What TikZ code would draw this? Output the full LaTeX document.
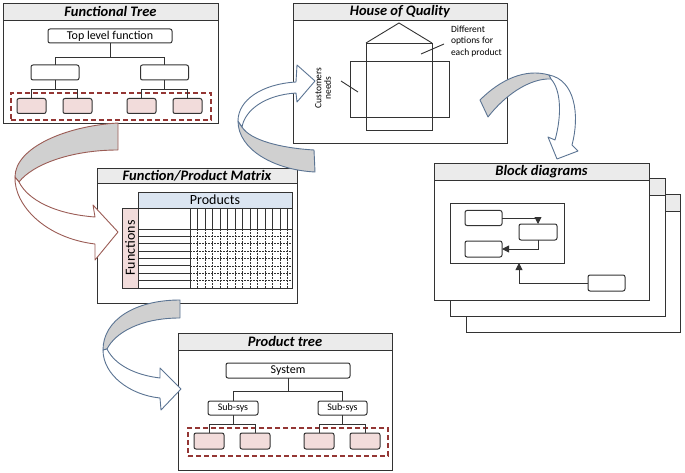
\documentclass[tikz,border=0pt]{standalone}
\usepackage{fontspec}
\setmainfont{Carlito}
\usetikzlibrary{arrows.meta}
\definecolor{barfill}{HTML}{EBEBEB}
\definecolor{leaffill}{HTML}{F2DCDB}
\definecolor{groupred}{HTML}{943634}
\definecolor{prodblue}{HTML}{DBE5F1}
\definecolor{ribbongray}{HTML}{D0D0D0}
\definecolor{brownedge}{HTML}{9B5C55}
\definecolor{blueedge}{HTML}{5B7493}
\definecolor{linegray}{HTML}{333333}
\begin{document}
\begin{tikzpicture}[x=1pt,y=-1pt,inner sep=0pt,outer sep=0pt,
panel/.style={draw=linegray,fill=white,rectangle,line width=0.9pt},
titlebar/.style={draw=linegray,fill=barfill,rectangle,line width=0.9pt,minimum height=17pt,font=\fontsize{14.5}{14.5}\selectfont\bfseries\itshape},
treebox/.style={draw=linegray,fill=white,rectangle,rounded corners=2pt,line width=1pt,font=\fontsize{12}{12}\selectfont},
leaf/.style={treebox,fill=leaffill,minimum width=29pt,minimum height=15pt},
group/.style={draw=groupred,rectangle,line width=1.6pt,dash pattern=on 5pt off 3pt},
link/.style={draw=linegray,line width=0.9pt},
ribbon/.style={line width=0.9pt,line join=round}]
\useasboundingbox (0,0) rectangle (685,473);
% functional tree
\draw (110.5,63) node[panel,minimum width=215pt,minimum height=120pt] (ftpanel) {};
\draw (ftpanel.north) node[titlebar,below,minimum width=215pt] (fttitle) {Functional Tree};
\draw (110,36) node[treebox,minimum width=124pt,minimum height=14pt] (fttop) {Top level function};
\draw (55,72.5) node[treebox,minimum width=48pt,minimum height=15pt] (ftmidL) {};
\draw (164.5,72.5) node[treebox,minimum width=48pt,minimum height=15pt] (ftmidR) {};
\draw (31.5,106) node[leaf] (ftleaf1) {};
\draw (77.5,106) node[leaf] (ftleaf2) {};
\draw (141.5,106) node[leaf] (ftleaf3) {};
\draw (187.5,106) node[leaf] (ftleaf4) {};
\draw (111,106.5) node[group,minimum width=200pt,minimum height=27pt] (ftgroup) {};
\draw[link] (fttop.south) -- ++(0,14) coordinate (ftj) -| (ftmidL.north);
\draw[link] (ftj) -| (ftmidR.north);
\draw[link] (ftmidL.south) -- ++(0,9) coordinate (ftjL) -| (ftleaf1.north);
\draw[link] (ftjL) -| (ftleaf2.north);
\draw[link] (ftmidR.south) -- ++(0,9) coordinate (ftjR) -| (ftleaf3.north);
\draw[link] (ftjR) -| (ftleaf4.north);
% function/product matrix
\draw (197,235.5) node[panel,minimum width=200pt,minimum height=135pt] (fmpanel) {};
\draw (fmpanel.north) node[titlebar,below,minimum width=200pt,minimum height=15pt] (fmtitle) {Function/Product Matrix};
\draw (215,200) node[draw=linegray,fill=prodblue,line width=0.9pt,minimum width=154pt,minimum height=16pt,font=\fontsize{14}{14}\selectfont] (fmprod) {Products};
\draw (130,248) node[draw=linegray,fill=leaffill,line width=0.9pt,rotate=90,minimum width=80pt,minimum height=16pt,font=\fontsize{14}{14}\selectfont] (fmfunc) {Functions};
\draw[link] (138,208) rectangle (292,288);
\draw[link] (190,208) -- (190,288);
\draw[link] (138,229) -- (292,229);
\foreach \k in {1,...,7} {
  \draw[link] (138,{229+7.375*\k}) -- (190,{229+7.375*\k});
  \draw[link,line width=0.7pt,dash pattern=on 2pt off 1pt] (190,{229+7.375*\k}) -- (292,{229+7.375*\k});
}
\foreach \k in {1,...,13} {
  \draw[link] ({190+7.5*\k},208) -- ({190+7.5*\k},229);
  \draw[link,line width=0.7pt,dash pattern=on 2pt off 1pt] ({190+7.5*\k},229) -- ({190+7.5*\k},288);
}
% house of quality
\draw (400,73) node[panel,minimum width=214pt,minimum height=140pt] (hqpanel) {};
\draw (hqpanel.north) node[titlebar,below,minimum width=214pt] (hqtitle) {House of Quality};
\draw (399,86.5) node[draw=linegray,line width=0.9pt,minimum width=66pt,minimum height=87pt] (hqtall) {};
\draw (399.5,89) node[draw=linegray,line width=0.9pt,minimum width=99pt,minimum height=56pt] (hqwide) {};
\draw[link] (hqtall.north west) -- ++(33,-20) -- (hqtall.north east);
\draw (451,41) node[anchor=west,align=left,font=\fontsize{9.5}{11.5}\selectfont] (hqopts) {Different\\options for\\each product};
\draw[link] (hqopts.west) ++(-7,3) -- (421,54);
\draw (323,88) node[rotate=90,align=center,font=\fontsize{9.5}{9.5}\selectfont] (hqneeds) {Customers\\needs};
\draw[link] (hqneeds) ++(18,-7) -- ++(17,11);
% block diagrams
\draw (573,263) node[panel,minimum width=214pt,minimum height=138pt] (bd3) {};
\draw (bd3.north) node[titlebar,below,minimum width=214pt] (bd3title) {};
\draw (557.5,247) node[panel,minimum width=215pt,minimum height=138pt] (bd2) {};
\draw (bd2.north) node[titlebar,below,minimum width=215pt] (bd2title) {};
\draw (541.5,231.5) node[panel,minimum width=215pt,minimum height=137pt] (bdpanel) {};
\draw (bdpanel.north) node[titlebar,below,minimum width=215pt] (bdtitle) {Block diagrams};
\draw (507,233) node[draw=linegray,line width=0.9pt,minimum width=114pt,minimum height=60pt] (bdframe) {};
\draw (483.5,218) node[treebox,minimum width=37pt,minimum height=15pt] (bdb1) {};
\draw (538,232) node[treebox,minimum width=38pt,minimum height=16pt] (bdb2) {};
\draw (483.5,249) node[treebox,minimum width=37pt,minimum height=16pt] (bdb3) {};
\draw (606.5,283) node[treebox,minimum width=37pt,minimum height=16pt] (bdb4) {};
\draw[link,-{Triangle[length=7pt,width=7pt]}] (bdb1.east) -| (bdb2.north);
\draw[link,-{Triangle[length=7pt,width=7pt]}] (bdb2.south) |- (bdb3.east);
\draw[link,-{Triangle[length=7pt,width=7pt]}] (bdb4.west) -| (bdb2.west |- bdframe.south);
% product tree
\draw (285,401.5) node[panel,minimum width=214pt,minimum height=137pt] (ptpanel) {};
\draw (ptpanel.north) node[titlebar,below,minimum width=214pt] (pttitle) {Product tree};
\draw (288,370.5) node[treebox,minimum width=124pt,minimum height=15pt] (ptsys) {System};
\draw (233,408) node[treebox,minimum width=50pt,minimum height=14pt,font=\fontsize{10}{10}\selectfont] (ptsubL) {Sub-sys};
\draw (342.5,408) node[treebox,minimum width=49pt,minimum height=14pt,font=\fontsize{10}{10}\selectfont] (ptsubR) {Sub-sys};
\draw (209,441) node[leaf,minimum width=30pt,minimum height=16pt] (ptleaf1) {};
\draw (255,441) node[leaf,minimum width=30pt,minimum height=16pt] (ptleaf2) {};
\draw (319,441) node[leaf,minimum width=30pt,minimum height=16pt] (ptleaf3) {};
\draw (365,441) node[leaf,minimum width=30pt,minimum height=16pt] (ptleaf4) {};
\draw (288,442) node[group,minimum width=200pt,minimum height=28pt] (ptgroup) {};
\draw[link] (ptsys.south) -- ++(0,13) coordinate (ptj) -| (ptsubL.north);
\draw[link] (ptj) -| (ptsubR.north);
\draw[link] (ptsubL.south) -- ++(0,9) coordinate (ptjL) -| (ptleaf1.north);
\draw[link] (ptjL) -| (ptleaf2.north);
\draw[link] (ptsubR.south) -- ++(0,9) coordinate (ptjR) -| (ptleaf3.north);
\draw[link] (ptjR) -| (ptleaf4.north);
% curved arrows
\filldraw[fill=ribbongray,draw=brownedge,ribbon] (118,123) .. controls (65,126) and (15,148) .. (15,177) -- (19,182) .. controls (32,165) and (70,150) .. (118,150) -- cycle;
\filldraw[fill=white,draw=brownedge,ribbon] (19,182) .. controls (28,200) and (55,214) .. (95,217) -- (93,205) -- (118,232) -- (95,260) -- (95,244) .. controls (45,238) and (14,205) .. (15,177) -- cycle;
\filldraw[fill=ribbongray,draw=blueedge,ribbon] (238,121) .. controls (238,150) and (275,170) .. (315,172) -- (314,150) .. controls (280,148) and (250,140) .. (242,127) -- cycle;
\filldraw[fill=white,draw=blueedge,ribbon] (238,121) .. controls (238,100) and (262,84) .. (296,82) -- (297,65) -- (315,81) -- (297,102) -- (296,93) .. controls (265,95) and (245,110) .. (242,127) -- cycle;
\filldraw[fill=ribbongray,draw=blueedge,ribbon] (480,100) .. controls (500,80) and (525,68) .. (549,75) -- (551,79) .. controls (530,78) and (505,95) .. (488,117) -- cycle;
\filldraw[fill=white,draw=blueedge,ribbon] (549,75) .. controls (575,80) and (580,115) .. (572,145) -- (578,151) -- (557,159) -- (548,137) -- (555,140) .. controls (562,115) and (561,90) .. (551,79) -- cycle;
\filldraw[fill=ribbongray,draw=blueedge,ribbon] (180,300) .. controls (135,300) and (103,320) .. (103,350) -- (107,349) .. controls (115,333) and (140,318) .. (180,318) -- cycle;
\filldraw[fill=white,draw=blueedge,ribbon] (107,349) .. controls (115,365) and (135,375) .. (160,378) -- (160,368) -- (181,389) -- (161,410) -- (160,398) .. controls (130,395) and (103,375) .. (103,350) -- cycle;
\end{tikzpicture}
\end{document}
